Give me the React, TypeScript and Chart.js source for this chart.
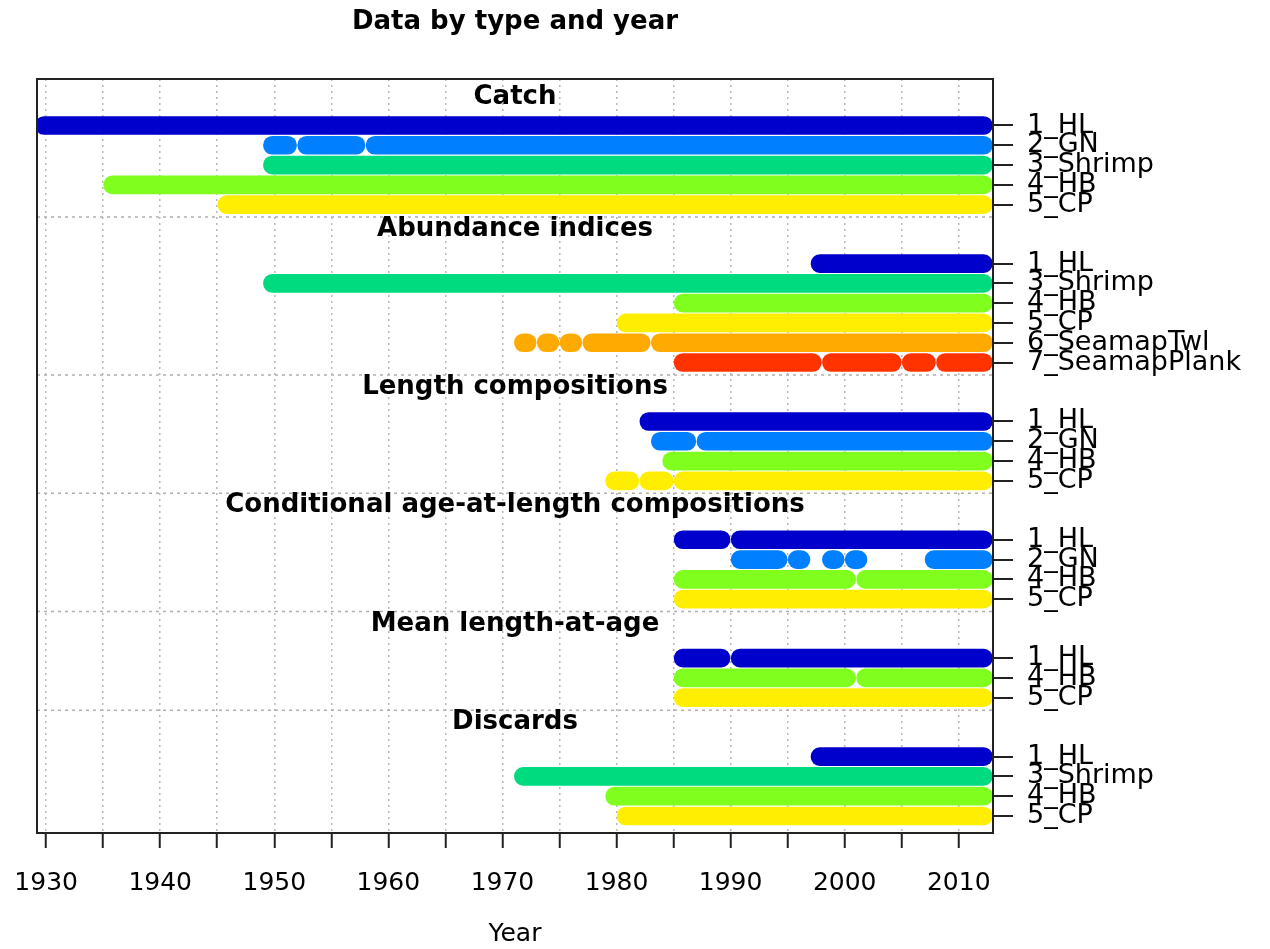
import { useRef, useEffect } from "react";
import Chart from "chart.js/auto";

// groups of the plot, top to bottom
const groupTitles = [
  "Catch",
  "Abundance indices",
  "Length compositions",
  "Conditional age-at-length compositions",
  "Mean length-at-age",
  "Discards",
];

const groupFleets = [
  ["1_HL", "2_GN", "3_Shrimp", "4_HB", "5_CP"],
  ["1_HL", "3_Shrimp", "4_HB", "5_CP", "6_SeamapTwl", "7_SeamapPlank"],
  ["1_HL", "2_GN", "4_HB", "5_CP"],
  ["1_HL", "2_GN", "4_HB", "5_CP"],
  ["1_HL", "4_HB", "5_CP"],
  ["1_HL", "3_Shrimp", "4_HB", "5_CP"],
];

// year spans [first, last] for each fleet row, same order as groupFleets
const groupSpans: number[][][][] = [
  [
    [[1930, 2012]],
    [[1950, 1951], [1953, 1957], [1959, 2012]],
    [[1950, 2012]],
    [[1936, 2012]],
    [[1946, 2012]],
  ],
  [
    [[1998, 2012]],
    [[1950, 2012]],
    [[1986, 2012]],
    [[1981, 2012]],
    [[1972, 1972], [1974, 1974], [1976, 1976], [1978, 1982], [1984, 2012]],
    [[1986, 1997], [1999, 2004], [2006, 2007], [2009, 2012]],
  ],
  [
    [[1983, 2012]],
    [[1984, 1986], [1988, 2012]],
    [[1985, 2012]],
    [[1980, 1981], [1983, 1984], [1986, 2012]],
  ],
  [
    [[1986, 1989], [1991, 2012]],
    [[1991, 1994], [1996, 1996], [1999, 1999], [2001, 2001], [2008, 2012]],
    [[1986, 2000], [2002, 2012]],
    [[1986, 2012]],
  ],
  [
    [[1986, 1989], [1991, 2012]],
    [[1986, 2000], [2002, 2012]],
    [[1986, 2012]],
  ],
  [
    [[1998, 2012]],
    [[1972, 2012]],
    [[1980, 2012]],
    [[1981, 2012]],
  ],
];

const fleetColors: Record<string, string> = {
  "1_HL": "#0000CC",
  "2_GN": "#0080FF",
  "3_Shrimp": "#00DB80",
  "4_HB": "#80FF1F",
  "5_CP": "#FFEE00",
  "6_SeamapTwl": "#FFAA00",
  "7_SeamapPlank": "#FF3300",
};

const xTickYears = [1930, 1935, 1940, 1945, 1950, 1955, 1960, 1965, 1970, 1975, 1980, 1985, 1990, 1995, 2000, 2005, 2010];

const FONT = "'DejaVu Sans', 'Liberation Sans', Arial, sans-serif";

// row layout (in row units, downward)
const rowPos: number[] = [];
const rowLabel: string[] = [];
const titlePos: number[] = [];
const sepPos: number[] = [];
let top = 0;
groupFleets.forEach((fleets, g) => {
  titlePos.push(top + (g === 0 ? 0.9 : 0.62));
  fleets.forEach((f, i) => {
    rowPos.push(top + 2.35 + i);
    rowLabel.push(f);
  });
  const last = top + 2.35 + fleets.length - 1;
  if (g < groupFleets.length - 1) {
    top = last + 0.63;
    sepPos.push(top);
  } else {
    top = last + 0.86;
  }
});
const yMax = top;

const barData: { x: number[]; y: number }[] = [];
const barColors: string[] = [];
let r = 0;
groupSpans.forEach((rows, g) => {
  rows.forEach((spans, i) => {
    spans.forEach(([a, b]) => {
      barData.push({ x: [a - 0.95, b + 0.95], y: rowPos[r] });
      barColors.push(fleetColors[groupFleets[g][i]]);
    });
    r++;
  });
});

const App = () => {
  const chartRef = useRef<HTMLCanvasElement | null>(null);
  const chartInstance = useRef<Chart | null>(null);

  useEffect(() => {
    if (chartInstance.current) chartInstance.current.destroy();
    const ctx = chartRef.current?.getContext("2d");
    if (!ctx) return;

    const overlay = {
      id: "overlay",
      beforeDatasetsDraw(chart: any) {
        const { ctx, chartArea: a, scales } = chart;
        ctx.save();
        ctx.strokeStyle = "#b0b0b0";
        ctx.lineWidth = 1.5;
        ctx.setLineDash([3, 4]);
        sepPos.forEach((s) => {
          const y = scales.y.getPixelForValue(s);
          ctx.beginPath();
          ctx.moveTo(a.left, y);
          ctx.lineTo(a.right, y);
          ctx.stroke();
        });
        ctx.restore();
      },
      afterDatasetsDraw(chart: any) {
        const { ctx, chartArea: a, scales } = chart;
        ctx.save();
        ctx.fillStyle = "#000";
        ctx.font = "bold 26px " + FONT;
        ctx.textAlign = "center";
        ctx.textBaseline = "middle";
        groupTitles.forEach((t, i) => {
          ctx.fillText(t, (a.left + a.right) / 2, scales.y.getPixelForValue(titlePos[i]));
        });
        ctx.strokeStyle = "#222";
        ctx.lineWidth = 2;
        ctx.strokeRect(a.left, a.top, a.right - a.left, a.bottom - a.top);
        ctx.restore();
      },
    };

    chartInstance.current = new Chart(ctx, {
      type: "bar",
      data: {
        datasets: [
          {
            data: barData as any,
            backgroundColor: barColors,
            borderRadius: 9,
            borderSkipped: false,
            barThickness: 18,
          },
        ],
      },
      options: {
        indexAxis: "y",
        animation: false,
        responsive: false,
        layout: { padding: { left: 37, top: 79 } },
        plugins: {
          legend: { display: false },
          tooltip: { enabled: false },
          title: { display: false },
        },
        scales: {
          x: {
            type: "linear",
            min: 1929.2,
            max: 2013,
            afterBuildTicks: (s: any) => {
              s.ticks = xTickYears.map((v) => ({ value: v }));
            },
            afterFit: (s: any) => {
              s.height = 949 - 833;
              s.paddingLeft = 0;
              s.paddingRight = 0;
            },
            ticks: {
              autoSkip: false,
              maxRotation: 0,
              padding: 20,
              color: "#000",
              font: { family: FONT, size: 25 },
              callback: (v: any) => (Number(v) % 10 === 0 ? String(v) : ""),
            },
            grid: {
              color: "#b8b8b8",
              lineWidth: 1.5,
              tickLength: 15,
              tickColor: "#222",
              tickBorderDash: [],
              tickWidth: 2,
            } as any,
            border: { display: false, dash: [2, 4] },
            title: {
              display: true,
              text: "Year",
              color: "#000",
              padding: 0,
              font: { family: FONT, size: 25 },
            },
          },
          y: {
            type: "linear",
            position: "right",
            reverse: true,
            offset: false,
            min: 0,
            max: yMax,
            afterBuildTicks: (s: any) => {
              s.ticks = rowPos.map((v) => ({ value: v }));
            },
            afterFit: (s: any) => {
              s.width = 1270 - 993;
              s.paddingTop = 0;
              s.paddingBottom = 0;
            },
            ticks: {
              autoSkip: false,
              padding: 14,
              color: "#000",
              font: { family: FONT, size: 27 },
              callback: (_v: any, i: number) => rowLabel[i],
            },
            grid: { offset: false, drawOnChartArea: false, tickLength: 20, color: "#222", lineWidth: 2 },
            border: { display: false },
          },
        },
      },
      plugins: [overlay],
    } as any);

    return () => {
      if (chartInstance.current) chartInstance.current.destroy();
    };
  }, []);

  return (
    <div style={{ position: "absolute", left: 0, top: 0, width: 1270, height: 949, background: "#fff" }}>
      <div
        style={{
          position: "absolute",
          left: 0,
          width: 1030,
          top: 5,
          textAlign: "center",
          font: "bold 26px " + FONT,
        }}
      >
        Data by type and year
      </div>
      <canvas ref={chartRef} width={1270} height={949}></canvas>
    </div>
  );
};

export default App;
